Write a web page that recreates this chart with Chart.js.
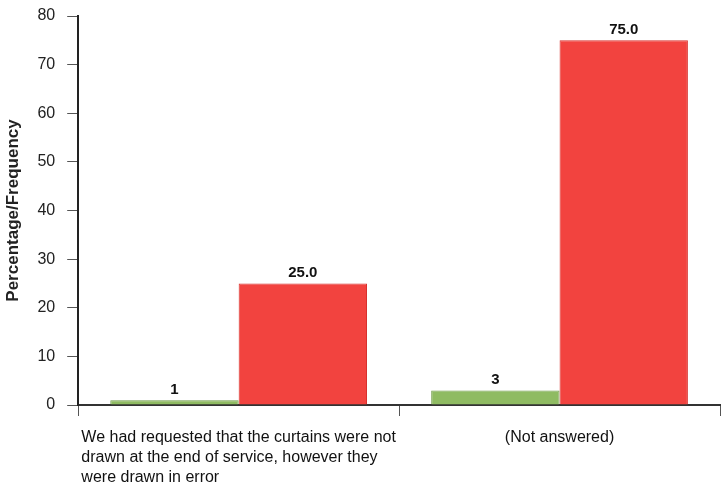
<!DOCTYPE html>
<html>
<head>
<meta charset="utf-8">
<script src="https://cdn.jsdelivr.net/npm/chart.js@4"></script>
<style>
  html, body { margin: 0; padding: 0; background: #fff; }
  #wrap { width: 721px; height: 485px; }
</style>
</head>
<body>
<div id="wrap"><canvas id="chart" width="721" height="485"></canvas></div>
<script>
const categories = [
    ['We had requested that the curtains were not', 'drawn at the end of service, however they', 'were drawn in error'],
    ['(Not answered)']
];
const frequencyData = [1, 3];
const percentageData = [25.0, 75.0];
const yTicks = [0, 10, 20, 30, 40, 50, 60, 70, 80];

const FONT = '"Liberation Sans", Arial, sans-serif';

// value labels above bars
const valueLabels = {
    id: 'valueLabels',
    afterDatasetsDraw(chart) {
        const ctx = chart.ctx;
        ctx.save();
        ctx.fillStyle = '#111';
        ctx.font = 'bold 15px ' + FONT;
        ctx.textAlign = 'center';
        ctx.textBaseline = 'bottom';
        chart.data.datasets.forEach((ds, di) => {
            chart.getDatasetMeta(di).data.forEach((bar, i) => {
                const v = ds.data[i];
                const txt = di === 0 ? String(v) : v.toFixed(1);
                ctx.fillText(txt, bar.x, bar.y - 3);
            });
        });
        ctx.restore();
    }
};

// category labels, block centred under category, lines left-aligned
const catLabels = {
    id: 'catLabels',
    afterDraw(chart) {
        const ctx = chart.ctx;
        const xs = chart.scales.x;
        ctx.save();
        ctx.fillStyle = '#111';
        ctx.font = '16px ' + FONT;
        ctx.textAlign = 'left';
        ctx.textBaseline = 'top';
        categories.forEach((lines, i) => {
            const cx = xs.getPixelForValue(i);
            const w = Math.max(...lines.map(l => ctx.measureText(l).width));
            const x0 = cx - w / 2;
            lines.forEach((l, k) => {
                ctx.fillText(l, x0, xs.top + 25 + k * 20);
            });
        });
        ctx.restore();
    }
};

new Chart(document.getElementById('chart').getContext('2d'), {
    type: 'bar',
    data: {
        labels: categories.map(c => c.join(' ')),
        datasets: [{
            label: 'Frequency',
            data: frequencyData,
            backgroundColor: '#8fbb62',
            borderColor: '#6f9a4a',
            borderWidth: 1,
            categoryPercentage: 0.8,
            barPercentage: 1.0
        }, {
            label: 'Percentage',
            data: percentageData,
            backgroundColor: '#f2433f',
            borderColor: '#d8322e',
            borderWidth: 1,
            categoryPercentage: 0.8,
            barPercentage: 1.0
        }]
    },
    options: {
        responsive: false,
        animation: false,
        layout: { padding: { top: 16, right: 1, bottom: 69, left: 3 } },
        plugins: {
            legend: { display: false },
            tooltip: { enabled: false }
        },
        scales: {
            x: {
                offset: true,
                ticks: { display: false },
                grid: {
                    offset: true,
                    drawOnChartArea: false,
                    drawTicks: true,
                    tickLength: 11,
                    color: '#555',
                    lineWidth: 1
                },
                border: { color: '#333', width: 2 }
            },
            y: {
                min: 0,
                max: 80,
                afterBuildTicks(axis) {
                    axis.ticks = yTicks.map(v => ({ value: v }));
                },
                afterFit(axis) {
                    axis.paddingTop = 0;
                },
                ticks: {
                    color: '#222',
                    font: { family: FONT, size: 16 },
                    padding: 12
                },
                grid: {
                    drawOnChartArea: false,
                    drawTicks: true,
                    tickLength: 11,
                    color: '#555'
                },
                border: { color: '#222', width: 2 },
                title: {
                    display: true,
                    text: 'Percentage/Frequency',
                    color: '#222',
                    font: { family: FONT, size: 17, weight: 'bold' },
                    padding: { top: 0, bottom: 2 }
                }
            }
        }
    },
    plugins: [valueLabels, catLabels]
});
</script>
</body>
</html>
